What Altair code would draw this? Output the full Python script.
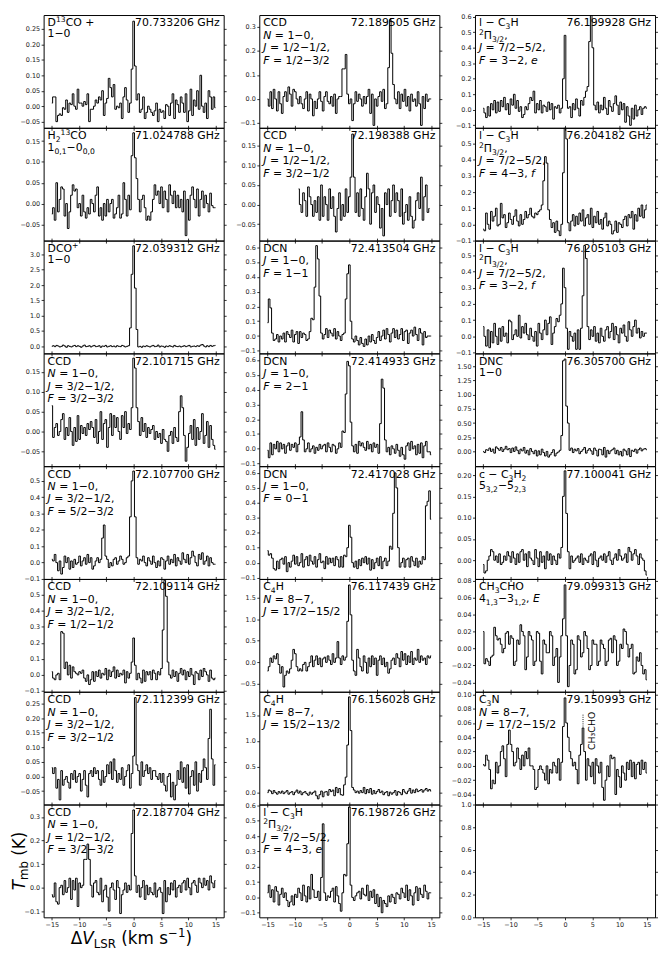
import re
import numpy as np
import pandas as pd
import altair as alt

# ---------------------------------------------------------------------------
# Spectra: main-beam temperature in mK, one value per channel.
# Channel k lies at velocity START + k * DV  (km/s).
# ---------------------------------------------------------------------------
DV = 0.3
V_FIRST = -15.0

T_D13COp = [
    10, 30, 30, -50, -30, -25, -30, -5, -10, 20,
    -20, 10, 5, 40, 0, -10, 55, 10, 10, 0,
    15, 5, 40, -50, -10, -10, 0, 20, 10, 30,
    20, 50, -30, 10, 25, 90, 60, 30, 70, -10,
    0, -5, 10, -40, 30, 60, 20, -20, 10, 120,
    275, 130, 20, 40, -20, -10, 30, -40, -20, 0,
    -10, -20, -30, -15, 10, -50, -10, -20, -15, -40,
    5, 0, -30, 10, 40, -40, 20, 5, -20, 30,
    10, -20, 40, -50, -15, 55, -30, 20, 0, 50,
    -10, 100, 0, -20, 10, -40, 50, 30, -10, 30,
    -5]
T_H213CO = [
    -25, -10, -40, 50, -20, 10, 40, 35, -30, 0,
    -60, -20, 20, 45, 30, 35, -10, 0, -30, 20,
    -20, -35, -10, -25, 10, 0, -20, 20, 40, -30,
    -10, -40, 0, -30, 10, -20, 0, 10, -35, -25,
    -10, 20, -35, -25, 50, 10, -30, 20, -15, 115,
    170, 110, 60, 10, -20, 10, 20, -10, -40, -30,
    -40, -20, 10, 45, 20, 30, 0, 40, -10, 30,
    10, -20, 45, 20, 0, 30, -10, 20, -10, 10,
    -20, 30, -77, 10, -40, 20, 40, 10, -10, 35,
    -30, 10, 30, -10, 20, 0, -20, 25, -5, -10,
    -10]
T_DCOp = [
    0, 20, -10, 30, 10, -20, 0, 40, 10, -30,
    20, 0, -20, 10, 30, -10, 20, 0, -30, 10,
    40, -10, 0, 20, -20, 10, 30, -10, 0, 20,
    -30, 10, 0, 30, -20, 0, 20, -10, 10, -20,
    20, 0, -10, 30, 10, -20, 0, 20, 600, 2350,
    3280, 1900, 550, -20, 0, -30, 10, -10, 20, 0,
    -20, 10, 30, -10, 0, 40, -20, 10, 0, -30,
    10, -10, 20, 0, -20, 30, 0, -10, 10, -20,
    0, 20, -10, 10, 30, -20, 0, 10, -10, 20,
    0, 40, 60, 10, -20, 20, -10, 30, 0, 20,
    30]
T_CCD101715 = [
    65, -15, 10, 20, -10, 0, 30, 45, -20, 10,
    -10, 35, 0, -35, 10, -25, 40, -20, 15, -5,
    10, -10, 20, 5, 25, 10, -15, 30, -30, 0,
    50, -20, 20, 30, -40, 10, 45, -10, 40, 10,
    35, 0, -20, 40, 10, 50, -5, 20, 5, 60,
    185, 160, 60, 25, -10, 35, 0, 20, -15, 10,
    -5, 5, 15, -20, 0, -15, -5, -30, 5, -20,
    -25, -50, -10, 0, -30, 10, -15, -25, 50, 90,
    60, -10, -75, -40, -5, 15, -20, 30, -35, 10,
    -20, 0, 45, -30, -10, 25, -40, 15, -20, -35,
    -45]
T_CCD107700 = [
    20, 10, 50, 0, -50, 10, -70, -30, 40, 0,
    30, -40, 10, -30, 20, -10, 0, 40, -20, 10,
    30, -10, 50, 0, 30, -40, -20, 10, 30, 0,
    20, 150, 230, 40, 20, -30, 0, -20, 20, 30,
    -10, 10, 40, 20, -10, 0, 30, 40, 280, 500,
    560, 280, 30, -10, 20, 10, 40, 0, -20, 30,
    10, -10, 40, 0, -30, 10, -20, 30, 20, -40,
    10, 40, -10, 20, 0, 50, -20, 30, 10, -10,
    60, 20, 0, 50, -10, 30, 70, 40, 0, -20,
    50, 20, 60, -10, 10, 40, -20, 30, 0, -10,
    -10]
T_CCD109114 = [
    20, -20, -30, 0, 10, -30, 270, 260, 40, 80,
    0, 60, -20, 50, 20, 10, 0, 20, 10, 30,
    -20, -40, 0, -60, -30, 20, -40, 20, -10, 30,
    -20, 10, 0, 40, -30, 30, -10, 20, 50, -20,
    30, -10, 10, 0, 30, -50, 20, -20, 10, 80,
    230, 60, -30, 10, -20, -50, 30, -40, 20, 0,
    20, -30, 30, 10, -30, 20, 0, 40, 280, 590,
    490, 80, 0, -20, 30, -10, 20, -40, 10, 40,
    0, 30, -30, 20, -10, 40, 0, -60, 20, 10,
    -30, 30, -10, 40, 20, 0, -40, 30, -20, -30,
    -20]
T_CCD112399 = [
    30, 10, 30, -40, -10, -80, 20, -30, -10, 0,
    -20, -40, 10, -10, 20, -20, 0, 10, -50, -10,
    20, -30, -70, 10, 20, 0, 30, 10, 20, -10,
    -30, 20, -20, 0, 40, 10, 50, -10, 60, 20,
    -20, 10, -10, 30, -30, 0, 20, 40, -40, 10,
    70, 270, 40, 20, -30, 50, 0, 20, 40, 10,
    30, -10, 20, 20, 0, -10, 10, -20, 10, -30,
    -50, 0, 10, -70, -20, -80, -30, 20, -10, 50,
    -20, 30, -40, 40, -60, 0, 20, -30, 50, -50,
    10, -20, 20, 60, 30, -10, 130, 230, 60, -30,
    40]
T_CCD187704 = [
    -30, -40, 20, -60, -70, 0, 10, -30, 30, -20,
    0, 40, -50, 30, -10, 40, -80, 20, 0, 10,
    120, 120, 185, 120, 10, -40, 20, 30, -20, -30,
    40, -60, -10, 10, -40, -100, 0, 20, -10, -50,
    30, 0, -110, -30, -10, 20, -20, 10, -10, 230,
    330, 50, -20, 10, -40, 0, 30, -50, 10, -30,
    0, -20, -30, 20, -40, -10, 0, -20, -110, 30,
    -60, 0, -30, 20, -10, 30, -40, 0, 10, -20,
    20, 30, -10, 40, 0, -30, 20, 30, 10, -20,
    40, 20, 0, 40, 10, 30, -10, 50, 20, 0,
    30]
T_CCD189505 = [
    0, -30, 30, -40, 40, 0, -50, 30, -20, -60,
    10, 30, -10, 50, 20, -30, 40, 30, 0, -20,
    10, -20, -40, 0, 30, -50, 20, 0, -70, -10,
    -40, 0, 30, -10, -50, 10, 30, -10, -20, 10,
    -30, 20, -60, 0, 10, 10, 125, 125, 185, 20,
    -20, 0, -90, -20, 30, -10, 20, 0, -30, 10,
    -20, 10, 40, -60, 20, -110, 0, -30, 10, 30,
    -10, 40, -40, -20, 130, 330, 190, 60, 0, -20,
    30, -40, 20, -10, 40, -30, 10, -50, 20, -10,
    0, -30, 30, -20, -110, 10, -40, 20, -10, 0,
    0]
T_CCD198388 = [   # starts at -9.3 km/s
    40, 0, -20, 30, 10, -30, 45, 20, 0, -30,
    10, -20, 20, -40, 50, -30, 20, 0, -40, 40,
    -10, 20, -30, -70, -10, 30, -40, 0, -30, 40,
    -20, 20, 70, 180, 70, -20, 30, -30, 40, -10,
    -40, 20, 80, 40, -50, 30, 50, -20, 20, 0,
    -60, -10, -80, 30, 0, 40, -30, 10, 50, -20,
    30, 10, -30, 40, -50, -20, 0, -40, 20, -30,
    -60, -40, 10, 30, -10, 70, -40, 20, 50, -20,
    -10]
T_DCN_F11 = [
    90, 250, 190, 20, -30, -20, 10, -40, 0, -20,
    20, -40, 30, 10, -10, 40, -40, 10, 30, -50,
    30, -10, 20, 10, -30, -20, 30, 120, 110, 330,
    610, 520, 270, 20, -20, 10, 50, -10, 40, 20,
    0, 50, -20, 30, 0, -30, 10, 20, 250, 420,
    480, 100, -20, -40, 0, -30, -60, -10, -50, -70,
    -20, -60, 0, -40, 10, -30, -50, -10, 30, -30,
    0, 40, -20, 50, 10, -40, 20, 50, -10, 40,
    -20, 10, 50, -30, 30, 40, -50, 20, 40, 0,
    60, 10, -30, 50, 20, -60, 30, -10, 0, 0,
    0]
T_DCN_F21 = [
    -10, -60, 40, -40, 30, 0, 50, -20, 40, 0,
    30, -30, 20, 40, -10, 30, 10, 40, -20, 30,
    80, 250, 60, -20, 0, 40, -20, 0, 20, -30,
    10, -10, 30, 0, 20, 30, -20, 40, 10, -20,
    30, 20, -30, 0, 40, 10, 120, 110, 370, 590,
    560, 180, 20, -20, 30, -30, 50, 20, 40, 10,
    -10, 50, 0, 30, -20, 40, 10, 30, -30, 170,
    470, 410, 60, -20, 10, -40, 20, 0, -30, 30,
    -10, -50, 10, -40, -70, 20, 40, -10, 50, 0,
    20, -40, 30, -30, 40, -60, 20, 50, -20, -20,
    -40]
T_DCN_F01 = [
    80, 50, 60, 30, -40, -50, 10, -40, 20, 30,
    -10, 40, -60, 0, -30, 10, 50, -10, 40, -20,
    0, 60, -30, 20, 40, -20, 50, 10, -10, 40,
    -30, 20, 60, 0, 10, -40, 40, -10, 30, 0,
    30, -20, 40, 20, -30, 40, -30, 50, 40, 100,
    250, 170, 0, -30, 10, -40, 20, -20, 30, 0,
    40, -10, 30, -50, 20, -40, 0, 30, -20, 40,
    -40, 10, 30, -20, 10, 110, 90, 330, 600, 500,
    100, -30, 0, 30, -30, 20, 30, -30, 40, 10,
    -20, 30, -30, 10, -10, 40, 20, 380, 410, 480,
    290]
T_C4H_17 = [
    -200, -100, 100, 0, 150, 80, 200, -50, -250, -100,
    -570, -300, -200, -250, -150, 50, 300, 200, -100, -200,
    -150, -200, -50, 0, -200, -100, 0, 150, -100, 50,
    150, -50, 100, -100, 80, 120, 0, 150, 50, -50,
    200, 0, 100, 480, 100, -50, 150, 50, 120, 950,
    1790, 1100, 50, -200, -300, 300, 100, -100, -200, 150,
    0, -250, 100, -100, 150, -50, 100, -300, 50, 150,
    -50, 100, -100, 0, -250, -150, 50, 100, -50, 200,
    100, -100, 250, 50, 200, -50, 150, 0, 250, -50,
    100, 50, 300, 0, 150, 50, 100, -50, 150, 100,
    150]
T_C4H_15 = [
    0, 50, 30, -20, 40, 0, -30, 20, -10, 30,
    -20, 10, 40, -30, 0, 20, -40, 10, 50, -10,
    30, -40, 0, 20, -20, -50, 10, -30, 0, 30,
    -60, -120, -40, 30, -80, 10, 20, -50, 60, 20,
    50, -60, 100, 0, 80, -40, -50, 150, 300, 920,
    1850, 1200, 100, 50, 0, 30, -10, 40, 0, 100,
    -20, 60, 0, 80, -30, 40, -20, 20, 60, 0,
    30, -40, 0, 20, -60, 10, -30, 0, 40, -50,
    20, 0, -40, 60, 10, -20, 30, 80, -10, 50,
    0, 70, 20, 40, 60, 10, 50, 80, 30, 60,
    30]
T_lC3H_43e = [
    30, 80, 0, 50, -30, 70, 40, -50, 20, 60,
    0, 30, -20, -60, -30, 10, -50, 20, 0, 60,
    30, -20, 80, 10, -30, 70, -10, 150, 50, 0,
    0, 40, -20, 130, 480, 30, -20, 10, 0, 40,
    60, -30, 70, 10, -40, -90, 30, 150, 140, 350,
    590, 80, 0, -20, 10, 30, 40, -10, 60, 20,
    10, 80, -20, 40, 0, 50, -40, 20, -60, 0,
    -100, -20, -40, -60, 10, -30, 20, 0, -40, 30,
    20, -10, 60, 30, 0, 80, -20, 50, 10, -50,
    30, 70, -20, 60, 20, 0, 80, 40, -10, 30,
    30]
T_lC3H_32e = [
    10, -20, -50, 20, -40, 40, 0, 60, -20, 50,
    -10, 60, 20, 80, 0, 40, -30, 70, 30, 100,
    10, 60, -10, 20, -50, -30, 20, 0, 40, 80,
    60, 120, -20, 40, 0, 60, -20, 30, 20, -10,
    50, 0, 40, -60, 20, 10, 30, -20, 10, 200,
    480, 60, 10, 20, -50, 40, 0, 70, 10, -40,
    60, 30, 80, 120, 150, 440, 610, 400, 30, 0,
    50, -20, 30, 0, 80, 10, -30, 60, 20, -10,
    40, 90, 30, -30, 50, 0, 40, -80, 20, -40,
    -100, 10, -60, 30, -40, 0, 20, -30, 10, 20,
    10]
T_lC3H_43f = [
    -30, -40, 70, 0, -30, 80, 20, 50, 100, -10,
    0, 130, 40, 60, -20, 10, 70, 30, 0, 50,
    90, 20, -10, 60, 0, 30, 80, 40, 60, 100,
    50, 40, 70, 60, 80, 90, 120, 270, 420, 380,
    90, 30, -20, 10, -50, 20, -40, -70, 0, 320,
    600, 530, 10, -40, 20, 60, -10, 50, 0, 70,
    20, 90, -10, 40, 60, 0, 100, -20, 50, 10,
    80, 0, 30, -30, 40, 70, -10, 20, 0, -60,
    -40, 20, -50, 10, 0, -20, 30, 50, -10, 60,
    40, 80, -30, 60, 20, 100, 50, 120, 40, 90,
    120]
T_lC3H_32f = [
    60, 0, -60, 40, -70, 30, -40, 80, 0, -50,
    50, -30, 60, 0, 20, -40, 100, 90, -20, 10,
    40, 0, 130, -10, 60, 20, 80, 10, -20, 50,
    0, -30, 30, -60, 80, 20, -20, 40, 100, 10,
    80, 120, -50, 20, 60, 110, 90, 130, 200, 420,
    300, 50, -80, 30, 0, -30, 20, -80, 40, -80,
    50, 250, 560, 480, 60, -20, 40, 0, 60, -30,
    20, -40, 50, 0, -30, 40, 60, -10, 30, 80,
    -20, 60, 10, -40, 50, 20, 70, 0, -30, 90,
    40, 0, 60, 100, 20, 50, -10, 30, 0, 20,
    20]
T_DNC = [
    0, -20, 30, 20, 60, 0, 40, -30, 80, 50,
    20, 70, 0, 40, 90, 30, 50, -20, 60, 0,
    80, 20, -40, 40, 10, 70, -30, 20, -60, 50,
    0, -40, 20, -80, 10, -60, 40, -20, -80, 0,
    -100, -60, -20, 30, -80, -30, -10, 20, 280, 1600,
    1630, 800, 500, 20, 60, -20, 40, 10, 50, -40,
    0, 30, 70, -30, 20, 50, 10, -50, 60, 20,
    -80, 40, 30, -60, 70, -100, 20, -40, 10, 30,
    60, -40, 20, -60, 0, -80, 40, 10, -60, 50,
    -90, 20, 0, 40, -30, 30, 60, 10, 40, 50,
    30]
T_cC3H2 = [
    -10, -30, -25, 0, 10, 25, 20, 0, 10, -5,
    15, -10, -5, 10, 0, 20, 10, -5, 20, 5,
    -10, 15, -5, 20, 25, 0, 15, -15, 20, 5,
    0, -10, 25, 5, -15, 20, -5, 10, -20, 20,
    0, 15, -10, 10, 0, -10, 15, 5, 30, 150,
    210, 110, 20, -20, 10, -5, 0, 5, 10, -5,
    15, -10, 5, 0, -5, 10, 15, -10, 20, 0,
    -15, 5, 10, 0, 15, -5, 10, 20, 0, -10,
    5, 15, 0, 25, 10, 0, 5, 15, -5, 30,
    20, 0, 15, 25, 10, -10, 15, 5, 0, -25,
    -35]
T_CH3CHO = [
    20, -18, -12, -15, -20, -10, -8, 25, 15, 10,
    12, 5, -5, 0, 18, 20, 5, 15, 12, -20,
    -15, 10, 5, 28, 20, 15, -25, -10, 20, 15,
    10, -20, -15, 20, 18, -15, -30, 10, 5, -5,
    -5, 20, 15, -20, -10, 0, -40, -10, 15, 35,
    75, 15, -45, -20, 10, 5, -30, -25, 15, 10,
    -10, -5, 20, 15, 0, -25, -20, 10, 5, 5,
    -20, -15, 10, 5, 0, -20, -15, 10, 12, -5,
    15, 10, -20, -15, 5, 0, 23, 20, 5, -10,
    0, 5, -30, -28, -10, -15, -5, -20, -30, -25,
    -37]
T_C3N = [
    2, 0, 15, 8, -5, -32, -20, -25, 5, -10,
    0, 20, 28, 10, -15, 30, 50, 30, 20, 0,
    5, 25, 10, -5, 15, 0, 20, 10, 25, 0,
    0, -5, -33, -30, -5, 0, -5, -10, -20, 0,
    -25, -5, -10, 5, 0, -10, 10, -20, 5, 55,
    95, 60, 40, 20, 10, 0, 5, -5, -25, 15,
    30, 53, 20, -20, 10, 0, -15, 5, -25, 10,
    0, -10, 5, -30, -48, -20, 0, -15, 15, 10,
    12, -40, -5, -15, -30, 0, -10, -20, 5, -5,
    8, -15, 5, -18, 2, 5, -12, 8, -5, 5,
    -10]

SPECTRA = {
    'D13COp': T_D13COp, 'H213CO': T_H213CO, 'DCOp': T_DCOp,
    'CCD_101715': T_CCD101715, 'CCD_107700': T_CCD107700,
    'CCD_109114': T_CCD109114, 'CCD_112399': T_CCD112399,
    'CCD_187704': T_CCD187704, 'CCD_189505': T_CCD189505,
    'CCD_198388': T_CCD198388, 'DCN_F11': T_DCN_F11, 'DCN_F21': T_DCN_F21,
    'DCN_F01': T_DCN_F01, 'C4H_17': T_C4H_17, 'C4H_15': T_C4H_15,
    'lC3H_43e': T_lC3H_43e, 'lC3H_32e': T_lC3H_32e, 'lC3H_43f': T_lC3H_43f,
    'lC3H_32f': T_lC3H_32f, 'DNC': T_DNC, 'cC3H2': T_cC3H2,
    'CH3CHO': T_CH3CHO, 'C3N': T_C3N,
}
START = {'CCD_198388': -9.3}

GRID = [
    ['D13COp', 'H213CO', 'DCOp', 'CCD_101715', 'CCD_107700', 'CCD_109114', 'CCD_112399', 'CCD_187704'],
    ['CCD_189505', 'CCD_198388', 'DCN_F11', 'DCN_F21', 'DCN_F01', 'C4H_17', 'C4H_15', 'lC3H_43e'],
    ['lC3H_32e', 'lC3H_43f', 'lC3H_32f', 'DNC', 'cC3H2', 'CH3CHO', 'C3N', 'empty'],
]

FREQ = {
    'D13COp': '70.733206 GHz', 'H213CO': '71.024788 GHz', 'DCOp': '72.039312 GHz',
    'CCD_101715': '72.101715 GHz', 'CCD_107700': '72.107700 GHz',
    'CCD_109114': '72.109114 GHz', 'CCD_112399': '72.112399 GHz',
    'CCD_187704': '72.187704 GHz', 'CCD_189505': '72.189505 GHz',
    'CCD_198388': '72.198388 GHz', 'DCN_F11': '72.413504 GHz', 'DCN_F21': '72.414933 GHz',
    'DCN_F01': '72.417028 GHz', 'C4H_17': '76.117439 GHz', 'C4H_15': '76.156028 GHz',
    'lC3H_43e': '76.198726 GHz', 'lC3H_32e': '76.199928 GHz', 'lC3H_43f': '76.204182 GHz',
    'lC3H_32f': '76.205103 GHz', 'DNC': '76.305700 GHz', 'cC3H2': '77.100041 GHz',
    'CH3CHO': '79.099313 GHz', 'C3N': '79.150993 GHz',
}

LC3H = ["l − C_{3}H", "^{2}Π_{3/2},", "*J* = 7/2−5/2,"]
LABELS = {
    'D13COp': ["D^{13}CO +", "1−0"],
    'H213CO': ["H_{2}^{13}CO", "1_{0,1}−0_{0,0}"],
    'DCOp': ["DCO^{+}", "1−0"],
    'CCD_101715': ["CCD", "*N* = 1−0,", "*J* = 3/2−1/2,", "*F* = 3/2−3/2"],
    'CCD_107700': ["CCD", "*N* = 1−0,", "*J* = 3/2−1/2,", "*F* = 5/2−3/2"],
    'CCD_109114': ["CCD", "*N* = 1−0,", "*J* = 3/2−1/2,", "*F* = 1/2−1/2"],
    'CCD_112399': ["CCD", "*N* = 1−0,", "*J* = 3/2−1/2,", "*F* = 3/2−1/2"],
    'CCD_187704': ["CCD", "*N* = 1−0,", "*J* = 1/2−1/2,", "*F* = 3/2−3/2"],
    'CCD_189505': ["CCD", "*N* = 1−0,", "*J* = 1/2−1/2,", "*F* = 1/2−3/2"],
    'CCD_198388': ["CCD", "*N* = 1−0,", "*J* = 1/2−1/2,", "*F* = 3/2−1/2"],
    'DCN_F11': ["DCN", "*J* = 1−0,", "*F* = 1−1"],
    'DCN_F21': ["DCN", "*J* = 1−0,", "*F* = 2−1"],
    'DCN_F01': ["DCN", "*J* = 1−0,", "*F* = 0−1"],
    'C4H_17': ["C_{4}H", "*N* = 8−7,", "*J* = 17/2−15/2"],
    'C4H_15': ["C_{4}H", "*N* = 8−7,", "*J* = 15/2−13/2"],
    'lC3H_43e': LC3H + ["*F* = 4−3, *e*"],
    'lC3H_32e': LC3H + ["*F* = 3−2, *e*"],
    'lC3H_43f': LC3H + ["*F* = 4−3, *f*"],
    'lC3H_32f': LC3H + ["*F* = 3−2, *f*"],
    'DNC': ["DNC", "1−0"],
    'cC3H2': ["c − C_{3}H_{2}", "5_{3,2}−5_{2,3}"],
    'CH3CHO': ["CH_{3}CHO", "4_{1,3}−3_{1,2}, *E*"],
    'C3N': ["C_{3}N", "*N* = 8−7,", "*J* = 17/2−15/2"],
}
LINE_STEP = {'D13COp': 11, 'H213CO': 11.5, 'DCOp': 11, 'DNC': 11, 'cC3H2': 11.5, 'CH3CHO': 11.5}

# y-axis: domain, tick values, decimals
YDOM = {
    'D13COp': (-0.07, 0.295), 'H213CO': (-0.089, 0.182), 'DCOp': (-0.23, 3.45),
    'CCD_101715': (-0.0875, 0.197), 'CCD_107700': (-0.10, 0.59), 'CCD_109114': (-0.105, 0.598),
    'CCD_112399': (-0.096, 0.29), 'CCD_187704': (-0.126, 0.353),
    'CCD_189505': (-0.12, 0.349), 'CCD_198388': (-0.092, 0.196), 'DCN_F11': (-0.117, 0.644),
    'DCN_F21': (-0.117, 0.644), 'DCN_F01': (-0.109, 0.645), 'C4H_17': (-0.68, 1.93),
    'C4H_15': (-0.23, 1.95), 'lC3H_43e': (-0.13, 0.606),
    'lC3H_32e': (-0.116, 0.611), 'lC3H_43f': (-0.101, 0.599), 'lC3H_32f': (-0.105, 0.59),
    'DNC': (-0.26, 1.73), 'cC3H2': (-0.044, 0.221), 'CH3CHO': (-0.051, 0.082),
    'C3N': (-0.054, 0.1036), 'empty': (0.0, 1.0),
}
T_A = [-0.05, 0.0, 0.05, 0.10, 0.15, 0.20, 0.25]
T_B = [-0.05, 0.0, 0.05, 0.10, 0.15]
T_C = [-0.1, 0.0, 0.1, 0.2, 0.3, 0.4, 0.5]
T_D = [-0.1, 0.0, 0.1, 0.2, 0.3]
T_E = [-0.1, 0.0, 0.1, 0.2, 0.3, 0.4, 0.5, 0.6]
YTICKS = {
    'D13COp': T_A, 'H213CO': T_B, 'DCOp': [0.0, 0.5, 1.0, 1.5, 2.0, 2.5, 3.0],
    'CCD_101715': T_B, 'CCD_107700': T_C, 'CCD_109114': T_C, 'CCD_112399': T_A,
    'CCD_187704': T_D, 'CCD_189505': T_D, 'CCD_198388': T_B,
    'DCN_F11': T_E, 'DCN_F21': T_E, 'DCN_F01': T_E,
    'C4H_17': [-0.5, 0.0, 0.5, 1.0, 1.5], 'C4H_15': [0.0, 0.5, 1.0, 1.5],
    'lC3H_43e': T_E, 'lC3H_32e': T_E, 'lC3H_43f': T_C, 'lC3H_32f': T_C,
    'DNC': [0.0, 0.25, 0.5, 0.75, 1.0, 1.25, 1.5], 'cC3H2': [0.0, 0.05, 0.10, 0.15, 0.20],
    'CH3CHO': [-0.04, -0.02, 0.0, 0.02, 0.04, 0.06, 0.08],
    'C3N': [-0.04, -0.02, 0.0, 0.02, 0.04, 0.06, 0.08, 0.10],
    'empty': [0.0, 0.2, 0.4, 0.6, 0.8, 1.0],
}
YDEC = {
    'D13COp': 2, 'H213CO': 2, 'DCOp': 1, 'CCD_101715': 2, 'CCD_107700': 1, 'CCD_109114': 1,
    'CCD_112399': 2, 'CCD_187704': 1, 'CCD_189505': 1, 'CCD_198388': 2, 'DCN_F11': 1,
    'DCN_F21': 1, 'DCN_F01': 1, 'C4H_17': 1, 'C4H_15': 1, 'lC3H_43e': 1, 'lC3H_32e': 1,
    'lC3H_43f': 1, 'lC3H_32f': 1, 'DNC': 2, 'cC3H2': 2, 'CH3CHO': 2, 'C3N': 2, 'empty': 1,
}

# blend marker in the C3N panel
BLEND_V = 3.3
BLEND_T = (0.055, 0.072)
BLEND_TEXT_POS = (4.9, 0.049)
BLEND_TEXT = "CH₃CHO"

XDOM = [-16.5, 16.5]
XTICKS = [-15, -10, -5, 0, 5, 10, 15]

# ---------------------------------------------------------------------------
PW, PH = 182, 114
FONT = 'DejaVu Sans'
FS, FS_SMALL = 11, 7.7
MINUS_EXPR = "replace(datum.label, '-', '\u2212')"

CW = {' ': .318, '.': .318, ',': .318, '/': .337, '−': .838, '=': .838, '+': .838,
      '(': .390, ')': .390, 'C': .698, 'D': .770, 'H': .752, 'N': .748, 'O': .787,
      'J': .295, 'F': .575, 'E': .632, 'G': .775, 'l': .278, 'c': .550, 'e': .615,
      'f': .352, 'z': .525, 'Π': .752, 'K': .656, 'T': .611, 'm': .974, 'b': .635,
      'k': .579, 's': .521, 'V': .684, 'L': .557, 'S': .635, 'R': .695, 'Δ': .684}
for _d in '0123456789':
    CW[_d] = .636

TOKEN = re.compile(r'(_\{[^}]*\}|\^\{[^}]*\}|\*[^*]+\*)')


def tokens(s):
    out = []
    for t in TOKEN.split(s):
        if not t:
            continue
        if t.startswith('_{'):
            out.append(('sub', t[2:-1]))
        elif t.startswith('^{'):
            out.append(('sup', t[2:-1]))
        elif t.startswith('*') and t.endswith('*') and len(t) > 2:
            out.append(('it', t[1:-1]))
        else:
            out.append(('n', t))
    return out


def tw(s, fs):
    return sum(CW.get(c, 0.62) for c in s) * fs


def runs_h(s, x0, yb, fs, small, dsub, dsup, align='left'):
    toks = tokens(s)
    total = sum(tw(t, fs if k in ('n', 'it') else small) for k, t in toks)
    x = x0 - total if align == 'right' else x0
    runs = []
    for kind, txt in toks:
        f = fs if kind in ('n', 'it') else small
        dy = dsub if kind == 'sub' else (dsup if kind == 'sup' else 0)
        body = txt.strip()
        if body:
            lead = tw(txt[:len(txt) - len(txt.lstrip())], f)
            runs.append(dict(px=x + lead, py=yb + dy, text=body, fs=f,
                             it=(kind == 'it'), angle=0))
        x += tw(txt, f)
    return runs


def runs_v(s, xb, yc, fs, small, dsub, dsup):
    toks = tokens(s)
    total = sum(tw(t, fs if k in ('n', 'it') else small) for k, t in toks)
    y = yc + total / 2
    runs = []
    for kind, txt in toks:
        f = fs if kind in ('n', 'it') else small
        dx = dsub if kind == 'sub' else (dsup if kind == 'sup' else 0)
        body = txt.strip()
        if body:
            lead = tw(txt[:len(txt) - len(txt.lstrip())], f)
            runs.append(dict(px=xb + dx, py=y - lead, text=body, fs=f,
                             it=(kind == 'it'), angle=270))
        y -= tw(txt, f)
    return runs


def axis(orient, values, labels, fmt=None):
    kw = dict(orient=orient, values=values, labels=labels, ticks=True, tickSize=2.5,
              tickColor='black', tickWidth=0.8, domain=False, grid=False, title=None,
              labelFont=FONT, labelFontSize=6.5, labelColor='#222', labelPadding=1.5,
              labelOverlap=False, labelFlush=False, labelExpr=MINUS_EXPR)
    if fmt:
        kw['format'] = fmt
    return alt.Axis(**kw)


def text_layers(runs, xs, ys, lo, hi):
    df = pd.DataFrame(runs)
    df['v'] = XDOM[0] + df['px'] / PW * (XDOM[1] - XDOM[0])
    df['T'] = hi - df['py'] / PH * (hi - lo)
    layers = []
    for (it, angle), g in df.groupby(['it', 'angle']):
        g = g[['v', 'T', 'text', 'fs']].reset_index(drop=True)
        layers.append(
            alt.Chart(g).mark_text(font=FONT, fontStyle='italic' if it else 'normal',
                                   angle=int(angle), align='left', baseline='alphabetic',
                                   color='black')
            .encode(x=alt.X('v:Q', scale=xs, axis=None),
                    y=alt.Y('T:Q', scale=ys, axis=None),
                    text='text:N',
                    size=alt.Size('fs:Q', scale=None, legend=None)))
    return layers


def make_panel(ci, ri, key):
    lo, hi = YDOM[key]
    xs = alt.Scale(domain=XDOM, nice=False, zero=False)
    ys = alt.Scale(domain=[lo, hi], nice=False, zero=False)
    bottom = ri == 7
    if key in SPECTRA:
        vals = np.array(SPECTRA[key], dtype=float) / 1000.0
        v0 = START.get(key, V_FIRST)
        vel = v0 + DV * np.arange(len(vals))
        df = pd.DataFrame({'v': vel, 'T': vals})
    else:
        df = pd.DataFrame({'v': pd.Series([], dtype=float), 'T': pd.Series([], dtype=float)})
    fmt = '.%df' % YDEC[key]
    line = alt.Chart(df).mark_line(interpolate='step', color='black', strokeWidth=1,
                                   clip=True).encode(
        x=alt.X('v:Q', scale=xs, axis=axis('bottom', XTICKS, bottom, 'd')),
        y=alt.Y('T:Q', scale=ys, axis=axis('left', YTICKS[key], True, fmt)))
    ghost = alt.Chart(df).mark_line(opacity=0).encode(
        x=alt.X('v:Q', scale=xs, axis=axis('top', XTICKS, False) if ri > 0 else None),
        y=alt.Y('T:Q', scale=ys, axis=axis('right', YTICKS[key], False)))
    layers = [line, ghost]

    runs = []
    if key in LABELS:
        step = LINE_STEP.get(key, 12.6)
        for li, s in enumerate(LABELS[key]):
            runs += runs_h(s, 4.0, 11.5 + li * step, FS, FS_SMALL, 3.0, -4.0)
        runs += runs_h(FREQ[key], PW - 4.0, 11.5, FS, FS_SMALL, 3.0, -4.0, align='right')
    if ci == 0 and bottom:
        runs += runs_v("*T*_{mb} (K)", -19.0, PH / 2, 17, 11.9, 3.0, -6.0)
        xt = "Δ*V*_{LSR} (km s^{−1})"
        tot = sum(tw(t, 17 if k in ('n', 'it') else 11.9) for k, t in tokens(xt))
        runs += runs_h(xt, PW / 2 - 2.3 - tot / 2, PH + 27, 17, 11.9, 4.0, -7.0)
    if runs:
        layers += text_layers(runs, xs, ys, lo, hi)

    if key == 'C3N':
        bdf = pd.DataFrame({'v': [BLEND_V], 'T': [BLEND_T[0]], 'T2': [BLEND_T[1]]})
        layers.append(alt.Chart(bdf).mark_rule(color='black', strokeWidth=0.9,
                                               strokeDash=[1, 1.2]).encode(
            x=alt.X('v:Q', scale=xs, axis=None), y=alt.Y('T:Q', scale=ys, axis=None), y2='T2:Q'))
        tdf = pd.DataFrame({'v': [BLEND_TEXT_POS[0]], 'T': [BLEND_TEXT_POS[1]], 'text': [BLEND_TEXT]})
        layers.append(alt.Chart(tdf).mark_text(font=FONT, fontSize=9.5, angle=270, align='center',
                                               baseline='middle', color='black').encode(
            x=alt.X('v:Q', scale=xs, axis=None), y=alt.Y('T:Q', scale=ys, axis=None), text='text:N'))

    return alt.layer(*layers).resolve_axis(x='independent', y='independent').properties(
        width=PW, height=PH)


# row-major grid: 8 rows x 3 columns
panels = []
for ri in range(8):
    for ci in range(3):
        panels.append(make_panel(ci, ri, GRID[ci][ri]))

chart = alt.concat(*panels, columns=3, spacing={'row': 0, 'column': 36},
                   bounds='flush').properties(
    padding={'left': 2, 'top': 0, 'right': 0, 'bottom': 0}
).configure_view(stroke='black', strokeWidth=1)

chart.save("out.html", embed_options={"renderer": "svg", "actions": False})
